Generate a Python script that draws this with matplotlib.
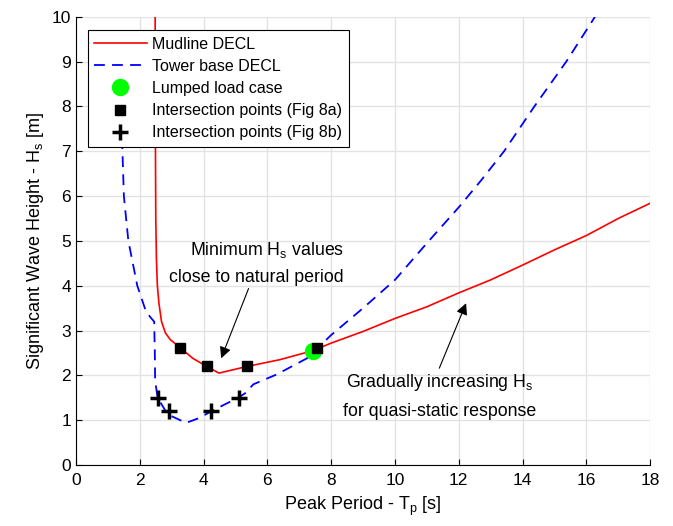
import matplotlib
matplotlib.use("Agg")
from matplotlib import pyplot as plt

plt.rcParams['font.family'] = ['Liberation Sans', 'DejaVu Sans']

# Mudline DECL (red)
mud_tp = [2.48, 2.49, 2.50, 2.52, 2.55, 2.60, 2.68, 2.80, 2.95, 3.26, 3.66, 4.10, 4.48,
          5.37, 6.39, 7.42, 8.0, 9.0, 10.0, 11.0, 12.0, 13.0, 14.0, 15.0, 16.0, 17.0, 18.0]
mud_hs = [10.0, 7.0, 5.5, 4.6, 4.0, 3.6, 3.2, 2.95, 2.8, 2.62, 2.38, 2.2, 2.05,
          2.2, 2.35, 2.55, 2.72, 2.98, 3.27, 3.53, 3.84, 4.13, 4.46, 4.8, 5.12, 5.5, 5.84]

# Tower base DECL (blue dashed)
twr_tp = [1.42, 1.45, 1.50, 1.64, 1.92, 2.19, 2.35, 2.45, 2.47, 2.48, 2.56, 2.87, 3.45,
          3.87, 4.24, 5.08, 5.3, 5.56, 6.29, 7.24, 8.0, 9.0, 10.0, 11.0, 12.0,
          12.7, 13.42, 14.37, 15.37, 16.27]
twr_hs = [8.5, 7.1, 6.0, 5.0, 4.0, 3.43, 3.28, 3.2, 2.5, 1.87, 1.5, 1.13, 0.94,
          1.05, 1.2, 1.5, 1.6, 1.8, 2.02, 2.38, 2.9, 3.5, 4.13, 4.95, 5.75,
          6.35, 7.0, 8.0, 9.0, 10.0]

lumped_tp = [7.42]
lumped_hs = [2.55]

sq_tp = [3.26, 4.10, 5.37, 7.55]
sq_hs = [2.60, 2.20, 2.20, 2.60]

plus_tp = [2.58, 2.90, 4.24, 5.10]
plus_hs = [1.50, 1.20, 1.20, 1.50]

fig = plt.figure(figsize=(6.73, 5.26), dpi=100)
ax = fig.add_axes([0.113, 0.116, 0.853, 0.852])

ax.plot(mud_tp, mud_hs, color='r', lw=1.2, label='Mudline DECL')
ax.plot(twr_tp, twr_hs, color='b', lw=1.3, linestyle=(0, (6, 4)), label='Tower base DECL')
ax.plot(lumped_tp, lumped_hs, 'o', color='#00ff00', ms=11.5, label='Lumped load case')
ax.plot(sq_tp, sq_hs, 's', color='k', ms=7, label='Intersection points (Fig 8a)')
ax.plot(plus_tp, plus_hs, '+', color='k', ms=12, mew=2.5, label='Intersection points (Fig 8b)')

ax.set_xlim(0, 18)
ax.set_ylim(0, 10)
ax.set_xticks(range(0, 19, 2))
ax.set_yticks(range(0, 11))
ax.grid(True, color='#e3e3e3', lw=1)
ax.set_axisbelow(True)
for s in ['top', 'right']:
    ax.spines[s].set_visible(False)
ax.tick_params(direction='in', length=4, labelsize=12.5)
ax.tick_params(axis='x', pad=6)
ax.set_xlabel(r'Peak Period - T$_\mathregular{p}$ [s]', fontsize=13, labelpad=5)
ax.set_ylabel(r'Significant Wave Height - H$_\mathregular{s}$ [m]', fontsize=13)

leg = ax.legend(loc='upper left', bbox_to_anchor=(0.02, 0.97), fontsize=11.5,
                handlelength=3.3, handletextpad=0.35, fancybox=False, framealpha=1,
                edgecolor='k', borderaxespad=0, labelspacing=0.45)
leg.get_frame().set_linewidth(0.8)

ax.annotate('Minimum H$_\\mathregular{s}$ values\nclose to natural period',
            xy=(4.55, 2.38), xytext=(8.4, 4.0), ha='right', va='bottom',
            fontsize=12.8, linespacing=1.7,
            arrowprops=dict(arrowstyle='-|>', color='k', lw=0.8, mutation_scale=17,
                            shrinkA=0, shrinkB=0, relpos=(0.46, 0.0)))
ax.annotate('', xy=(12.23, 3.61), xytext=(11.39, 2.16),
            arrowprops=dict(arrowstyle='-|>', color='k', lw=0.8, mutation_scale=17,
                            shrinkA=0, shrinkB=0))
ax.text(11.4, 2.08, 'Gradually increasing H$_\\mathregular{s}$\nfor quasi-static response',
        ha='center', va='top', fontsize=12.8, linespacing=1.8)

plt.savefig('out.png', dpi=100)
